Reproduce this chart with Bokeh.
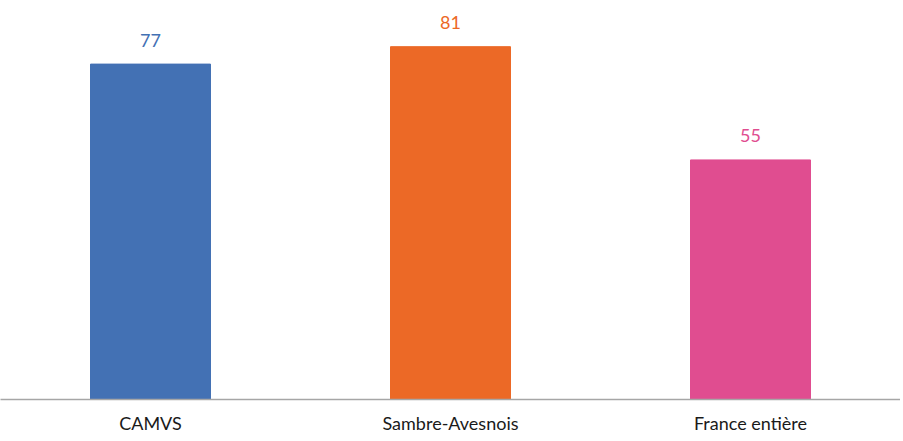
from bokeh.plotting import figure
from bokeh.models import FactorRange, Range1d, ColumnDataSource
from bokeh.core.properties import value
from bokeh.embed import file_html
from bokeh.resources import INLINE

categories = ["CAMVS", "Sambre-Avesnois", "France entière"]
values = [77, 81, 55]
colors = ["#4371B4", "#EC6926", "#E04D90"]
labels = [str(v) for v in values]

src = ColumnDataSource(dict(cat=categories, val=values, col=colors, lab=labels))

p = figure(x_range=FactorRange(*categories, start=-0.029, end=2.966),
           y_range=Range1d(0, 91.6),
           width=900, height=436, output_backend="svg", toolbar_location=None,
           min_border_left=0, min_border_right=0, min_border_top=0, min_border_bottom=0)

p.vbar(x="cat", top="val", width=0.4, color="col", source=src)
p.text(x="cat", y="val", text="lab", text_color="col", source=src,
       text_align="center", text_baseline="alphabetic", y_offset=-24,
       text_font=value("Lato"), text_font_size="18px")

p.yaxis.visible = False
p.xgrid.visible = False
p.ygrid.visible = False
p.outline_line_color = None
p.xaxis.axis_line_color = "#A6A6A6"
p.xaxis.axis_line_width = 1.5
p.xaxis.major_tick_line_color = None
p.xaxis.minor_tick_line_color = None
p.xaxis.major_tick_out = 0
p.xaxis.major_tick_in = 0
p.xaxis.axis_label_standoff = 0
p.xaxis.major_label_text_font = "Lato"
p.xaxis.major_label_text_font_size = "18px"
p.xaxis.major_label_text_color = "#1a1a1a"
p.xaxis.major_label_standoff = 12

open("out.html", "w").write(file_html(p, INLINE))
